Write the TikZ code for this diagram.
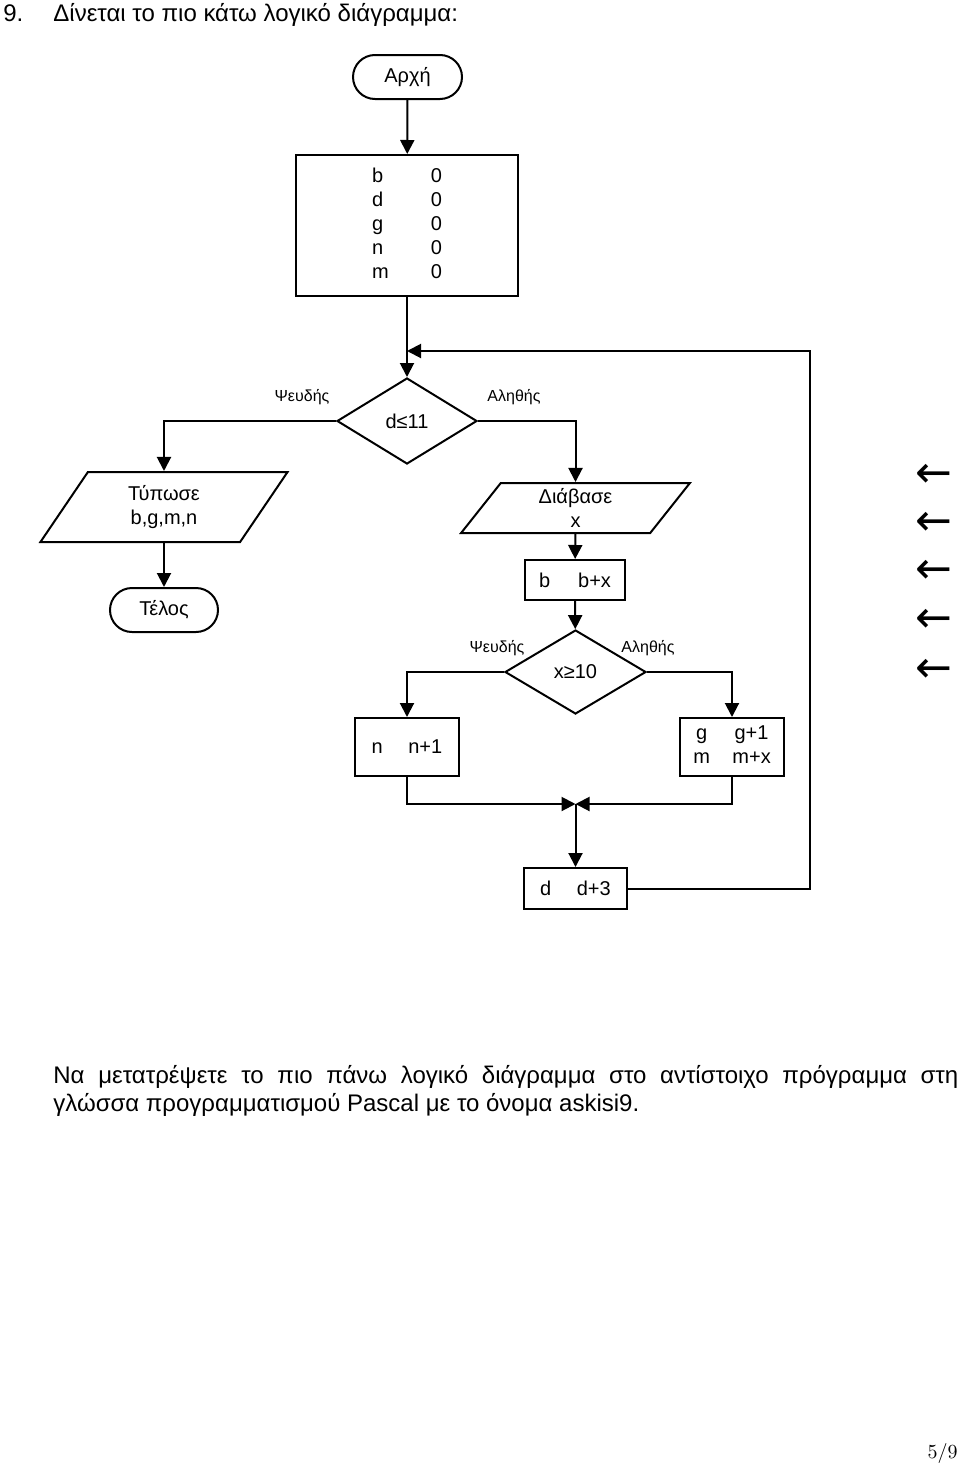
\documentclass[tikz,border=0pt]{standalone}
\usepackage{fontspec}
\newfontfamily\arial{Liberation Sans}
\newfontfamily\symfont{DejaVu Sans}
\usetikzlibrary{shapes.geometric,arrows.meta}

\begin{document}
\begin{tikzpicture}[x=0.5pt,y=0.5pt,yscale=-1,xscale=1,
    flow/.style={draw, line width=1pt, inner sep=1pt, align=center, font=\arial\fontsize{10pt}{12pt}\selectfont},
    term/.style={flow, rounded corners=11pt, minimum width=54.5pt, minimum height=22pt},
    proc/.style={flow, rectangle},
    io/.style={flow, trapezium, trapezium stretches=true},
    dec/.style={flow, diamond},
    lbl/.style={font=\arial\fontsize{8pt}{9.6pt}\selectfont},
    txt/.style={inner sep=0pt, font=\arial\fontsize{12pt}{14pt}\selectfont},
    arr/.style={line width=1pt, -{Triangle[length=7pt,width=7pt]}},
    wire/.style={line width=1pt}]
    \useasboundingbox (0,0) rectangle (960,1467);

    % Text Node
    \node[txt, anchor=base west] (num) at (3,21) {9.};
    \node[txt, anchor=base west] (title) at (53,21) {Δίνεται το πιο κάτω λογικό διάγραμμα:};

    % Terminal
    \node[term] (start) at (407.5,77) {Αρχή};
    % Process
    \node[proc, minimum width=111pt, minimum height=70.5pt] (init) at (407,225.5)
        {\begin{tabular}{@{}l@{\hspace{21pt}}l@{}} b & 0\\ d & 0\\ g & 0\\ n & 0\\ m & 0 \end{tabular}};
    % Decision
    \node[dec, minimum width=70pt, minimum height=43pt] (cond1) at (407,421) {d≤11};
    % Text Node
    \node[lbl] (no1) at (302,397) {Ψευδής};
    \node[lbl] (yes1) at (514,397) {Αληθής};
    % Output
    \node[io, trapezium left angle=63.4, trapezium right angle=116.6,
        minimum width=124pt, minimum height=35pt] (print) at (164,507) {Τύπωσε\\ b,g,m,n};
    % Terminal
    \node[term, minimum width=54pt] (stop) at (164,610) {Τέλος};
    % Input
    \node[io, trapezium left angle=64.4, trapezium right angle=115.6,
        minimum width=114.5pt, minimum height=25pt] (read) at (575.5,508) {Διάβασε\\ x};
    % Process
    \node[proc, minimum width=50pt, minimum height=20pt] (addb) at (575,580) {b\hspace{14pt}b+x};
    % Decision
    \node[dec, minimum width=70.5pt, minimum height=42pt] (cond2) at (575.5,672) {x≥10};
    % Text Node
    \node[lbl] (no2) at (497,648) {Ψευδής};
    \node[lbl] (yes2) at (648,648) {Αληθής};
    % Process
    \node[proc, minimum width=52pt, minimum height=29pt] (incn) at (407,747) {n\hspace{12.75pt}n+1};
    \node[proc, minimum width=52pt, minimum height=29pt] (incgm) at (732,747)
        {\begin{tabular}{@{}c@{\hspace{11.25pt}}c@{}} g & g+1\\ m & m+x \end{tabular}};
    \node[proc, minimum width=51.5pt, minimum height=20.5pt] (incd) at (575.5,888.5) {d\hspace{12.75pt}d+3};

    % Helper points
    \coordinate (join) at (575.5,804);
    \coordinate (back) at (810,351);

    % Connection
    \draw[arr] (start) -- (init);
    \draw[arr] (init) -- (cond1);
    \draw[arr] (cond1.west) -| (print);
    \draw[arr] (print) -- (stop);
    \draw[arr] (cond1.east) -| (read);
    \draw[arr] (read) -- (addb);
    \draw[arr] (addb) -- (cond2);
    \draw[arr] (cond2.west) -| (incn);
    \draw[arr] (cond2.east) -| (incgm);
    \draw[arr] (incn) |- (join);
    \draw[arr] (incgm) |- (join);
    \draw[arr] (join) -- (incd);
    \draw[arr] (incd.east) -| (back) -- (back -| init);

    % Stray arrows
    \foreach \y [count=\i] in {476,524,572,621,671}
        \node[inner sep=0pt, font=\symfont\fontsize{22pt}{26pt}\selectfont] (larr\i) at (934,\y) {←};

    % Text Node
    \node[txt, anchor=base west] (task1) at (53,1083)
        {\makebox[452.5pt][s]{Να μετατρέψετε το πιο πάνω λογικό διάγραμμα στο αντίστοιχο πρόγραμμα στη}};
    \node[txt, anchor=base west] (task2) at (53,1111)
        {γλώσσα προγραμματισμού Pascal με το όνομα askisi9.};
    \node[inner sep=0pt, font=\fontsize{10pt}{12pt}\selectfont, anchor=base east] (page) at (958,1458) {5/9};
\end{tikzpicture}
\end{document}
